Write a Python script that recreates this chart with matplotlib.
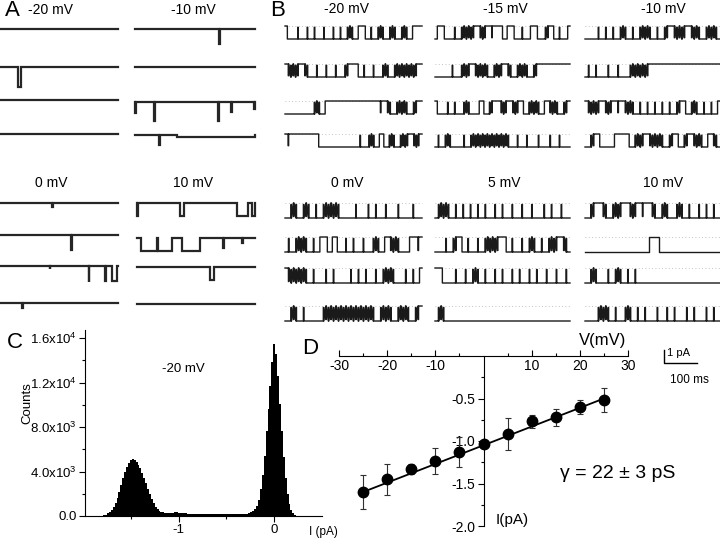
import numpy as np
import matplotlib
matplotlib.use("Agg")
import matplotlib.pyplot as plt
from matplotlib.ticker import FixedLocator, FixedFormatter

plt.rcParams['font.family'] = ['Liberation Sans', 'DejaVu Sans']
plt.rcParams['mathtext.fontset'] = 'custom'
plt.rcParams['mathtext.rm'] = 'Liberation Sans'
plt.rcParams['mathtext.default'] = 'regular'
plt.rcParams['axes.unicode_minus'] = False

W, H = 720, 538

# ---------------- data ----------------
# Panel A: single-channel events per sweep: (start frac, end frac, current pA)
A_labels = ['-20 mV', '-10 mV', '0 mV', '10 mV']
A_m20 = [[], [(0.155, 0.178, -1.4)], [], []]
A_m10 = [[(0.700, 0.707, -1.1)],
         [],
         [(0.0, 0.006, -0.8), (0.160, 0.167, -1.35), (0.690, 0.697, -1.35),
          (0.800, 0.806, -0.7), (0.994, 1.0, -0.5)],
         [(0.200, 0.206, -0.7), (0.350, 1.0, -0.12)]]
A_0 = [[(0.440, 0.447, -0.25)],
       [(0.600, 0.606, -1.1)],
       [(0.420, 0.425, -0.2), (0.750, 0.756, -1.15), (0.890, 0.896, -1.1),
        (0.950, 0.990, -1.05)],
       [(0.190, 0.196, -0.35)]]
A_10 = [[(0.0, 0.008, -0.9), (0.365, 0.400, -0.9), (0.850, 0.940, -0.9),
         (0.975, 1.0, -0.9)],
        [(0.030, 0.168, -0.9), (0.174, 0.300, -0.9), (0.380, 0.530, -0.9),
         (0.730, 0.736, -0.7), (0.890, 0.895, -0.35)],
        [(0.620, 0.650, -0.95)],
        []]
A_sweeps = [A_m20, A_m10, A_0, A_10]

# Panel B: channel state per time bin ('0' closed, '1' open)
B_labels = ['-20 mV', '-15 mV', '-10 mV', '0 mV', '5 mV', '10 mV']
B_m20 = ["0111101110110111011101101101011000110110101101011010110000",
         "0101010010111011101110111010000110111011101011010101010100",
         "1111111111110101100000000000000000000000100101101010110100",
         "0100000000000001111111111111111110111010110011010110101001010"]
B_m15 = ["1000111101101010100101001000011000111011100011101001101110",
         "1111111011101010010101011010100101101010110100000000000000",
         "0111101101110101111001101000101001010011010101100101011010",
         "1011010111110110101010101010101011101110111101111011101111"]
B_m10 = ["1111101101101101011011010101101101001010100101011010101",
         "1011011110111011110101010100000000000000000000000000000",
         "0101010010100100101011011011011011011010011010110110110",
         "1101001111110000001101010010101011010011010010101100101"]
B_0 = ["1101011010110110101010111111011110110111011110111110111",
       "1011010101101100011001110110111011101011001010111100010",
       "0101010101101111011011111101101101110110101011110110110",
       "1101011011111110101010101010101010101101010110101011010"]
B_5 = ["1010101101101101101101110110111011101110111101101110111",
       "1111011010011011101101010100011011101101011011010100101",
       "0001111101110110101101110110111011011101101110111011101",
       "1010111111111111111111111111111111111111111111111111111"]
B_10 = ["1101000101101010001010010001011010111010110111011011011",
        "1111111111111111111111111100001111111111111111111111111",
        "1101011110110101101101111111111111111111111111111111111",
        "1111101010110111010110110111101110110111101101111011011"]
B_sweeps = [B_m20, B_m15, B_m10, B_0, B_5, B_10]

# Panel C: all-points histogram at -20 mV (bins of 0.02 pA from -1.81 pA)
hist_counts = [40, 70, 130, 230, 380, 580, 850, 1200, 1650, 2200,
               2800, 3400, 3950, 4400, 4750, 5000, 5150, 5050, 4850, 4600,
               4300, 3900, 3450, 2950, 2450, 1950, 1500, 1150, 850, 620,
               470, 380, 330, 300, 290, 280, 290, 310, 330, 320,
               300, 280, 260, 240, 230, 220, 210, 200, 200, 190,
               190, 180, 180, 170, 170, 160, 160, 160, 150, 150,
               150, 150, 140, 150, 150, 150, 140, 150, 150, 160,
               160, 170, 170, 180, 190, 200, 220, 260, 320, 420,
               600, 900, 1450, 2400, 3700, 5400, 7600, 9600, 11700, 13800,
               15500, 14600, 12600, 10100, 7600, 5300, 3400, 2000, 1100, 550,
               260, 110, 40]
hist_first_center = -1.80
hist_bin_width = 0.02

# Panel D: I-V relation
iv_V = [-25, -20, -15, -10, -5, 0, 5, 10, 15, 20, 25]
iv_I = [-1.60, -1.45, -1.33, -1.235, -1.13, -1.04, -0.92, -0.77, -0.72, -0.60, -0.52]
iv_err = [0.20, 0.18, 0.06, 0.15, 0.18, 0.02, 0.19, 0.08, 0.10, 0.08, 0.14]
fit_V = [-25, 25]
fit_I = [-1.60, -0.50]

# ---------------- figure ----------------
fig = plt.figure(figsize=(W / 100, H / 100), dpi=100)


def box(x0, y0, x1, y1):
    return [x0 / W, 1 - y1 / H, (x1 - x0) / W, (y1 - y0) / H]


ov = fig.add_axes([0, 0, 1, 1])
ov.set_xlim(0, W)
ov.set_ylim(H, 0)
ov.axis('off')

# ---- Panel A traces ----
A_cols = [(0, 118), (135, 255), (0, 118), (137, 255)]
A_rows = [[29, 67, 100, 134], [29, 67, 102, 135], [203, 235, 266, 303], [203, 238, 267, 304]]
A_scale = 14.0  # px per pA
for c, sweeps in enumerate(A_sweeps):
    x0, x1 = A_cols[c]
    for r, events in enumerate(sweeps):
        t = [0.0]
        lv = [0.0]
        for (s, e, amp) in sorted(events):
            t += [s, s, e, e]
            lv += [lv[-1], amp, amp, 0.0]
        t.append(1.0)
        lv.append(lv[-1])
        xs = x0 + np.array(t) * (x1 - x0)
        ys = A_rows[c][r] - np.array(lv) * A_scale
        ov.plot(xs, ys, color='#262626', lw=1.6, solid_joinstyle='miter')


def runs(s):
    out = []
    i = 0
    while i < len(s):
        j = i
        while j < len(s) and s[j] == s[i]:
            j += 1
        out.append((i, j, s[i]))
        i = j
    return out


# ---- Panel B traces ----
B_cols = [(285, 422), (435, 570), (585, 720)]
B_rows = [[26, 64, 101, 134], [203, 237, 268, 306]]
B_amp = [13, 15]
for c, sweeps in enumerate(B_sweeps):
    g = c // 3
    x0, x1 = B_cols[c % 3]
    for r, s in enumerate(sweeps):
        n = len(s)
        rl = runs(s)
        t, lv = [], []
        for k, (i, j, ch) in enumerate(rl):
            v = 1.0 if ch == '1' else 0.0
            a, b = float(i), float(j)
            # brief (single-bin) sojourns are drawn as narrow, filtered spikes
            if j - i == 1 and 0 < k < len(rl) - 1:
                base = 0.0 if ch == '1' else 1.0
                peak = 0.9 if ch == '1' else 0.1
                mid = (a + b) / 2
                t += [mid - 0.12, mid - 0.12, mid + 0.12, mid + 0.12]
                lv += [base, peak, peak, base]
                continue
            t += [a, b]
            lv += [v, v]
        t = np.array(t) / n
        xs = x0 + t * (x1 - x0)
        ys = B_rows[g][r] + np.array(lv) * B_amp[g]
        ov.plot([x0, x1], [B_rows[g][r], B_rows[g][r]], color='#b0b0b0', lw=0.6, ls=(0, (1, 3)))
        ov.plot(xs, ys, color='#1a1a1a', lw=1.0)

# ---- panel texts ----
ov.text(5, 11, 'A', fontsize=16, ha='left', va='center')
ov.text(270, 11, 'B', fontsize=16, ha='left', va='center')
ov.text(7, 343, 'C', fontsize=16, ha='left', va='center')
ov.text(302, 349, 'D', fontsize=16, ha='left', va='center')
for lab, (x, y) in zip(A_labels, [(51, 10), (193, 10), (51, 183), (193, 183)]):
    ov.text(x, y, lab, fontsize=10, ha='center', va='center')
for lab, (x, y) in zip(B_labels, [(347, 9), (505, 9), (663, 9), (347, 183), (504, 183), (663, 183)]):
    ov.text(x, y, lab, fontsize=10, ha='center', va='center')

# scale bar
ov.plot([664, 664, 697], [350, 363, 363], color='black', lw=1.0)
ov.text(667, 353, '1 pA', fontsize=8, ha='left', va='center')
ov.text(689, 380, '100 ms', fontsize=8.5, ha='center', va='center')

# ---- Panel C histogram ----
axC = fig.add_axes(box(85, 330, 322, 516))
centers = hist_first_center + hist_bin_width * np.arange(len(hist_counts))
axC.bar(centers, hist_counts, width=hist_bin_width, color='black', linewidth=0)
axC.set_xlim(-1.98, 0.50)
axC.set_ylim(0, 16720)
for sp in ['top', 'right']:
    axC.spines[sp].set_visible(False)
axC.xaxis.set_major_locator(FixedLocator([-2, -1, 0]))
axC.xaxis.set_major_formatter(FixedFormatter(['-2', '-1', '0']))
axC.xaxis.set_minor_locator(FixedLocator([-1.5, -0.5]))
axC.yaxis.set_major_locator(FixedLocator([0, 4000, 8000, 12000, 16000]))
axC.yaxis.set_major_formatter(FixedFormatter(['0.0', '4.0x10$^3$', '8.0x10$^3$',
                                              '1.2x10$^4$', '1.6x10$^4$']))
axC.yaxis.set_minor_locator(FixedLocator([2000, 6000, 10000, 14000]))
axC.tick_params(which='major', length=4, width=0.8, labelsize=9.5, pad=2)
axC.tick_params(which='minor', length=2, width=0.8)
axC.set_facecolor('none')
ov.text(27, 403, 'Counts', fontsize=9.5, rotation=90, ha='center', va='center')
ov.text(183, 369, '-20 mV', fontsize=9.5, ha='center', va='center')
ov.text(323, 532, 'I (pA)', fontsize=8.5, ha='center', va='center')

# ---- Panel D I-V ----
axD = fig.add_axes(box(339, 356, 628, 526))
axD.plot(fit_V, fit_I, color='black', lw=1.3, zorder=2)
axD.errorbar(iv_V, iv_I, yerr=iv_err, fmt='o', ms=7.5, color='black',
             ecolor='#303030', elinewidth=0.8, capsize=2, capthick=0.8, zorder=3)
axD.set_xlim(-30, 30)
axD.set_ylim(-2.0, 0.0)
axD.spines['top'].set_visible(False)
axD.spines['right'].set_visible(False)
axD.spines['bottom'].set_position(('data', 0))
axD.spines['left'].set_position(('data', 0))
axD.xaxis.set_major_locator(FixedLocator([-30, -20, -10, 10, 20, 30]))
axD.xaxis.set_major_formatter(FixedFormatter(['-30', '-20', '-10', '10', '20', '30']))
axD.xaxis.set_minor_locator(FixedLocator([-25, -15, -5, 5, 15, 25]))
axD.yaxis.set_major_locator(FixedLocator([-0.5, -1.0, -1.5, -2.0]))
axD.yaxis.set_major_formatter(FixedFormatter(['-0.5', '-1.0', '-1.5', '-2.0']))
axD.yaxis.set_minor_locator(FixedLocator([-0.25, -0.75, -1.25, -1.75]))
axD.tick_params(axis='x', which='major', direction='in', length=4, width=0.8, labelsize=10, pad=2)
axD.tick_params(axis='x', which='minor', direction='in', length=2, width=0.8)
axD.tick_params(axis='y', which='major', direction='out', length=4, width=0.8, labelsize=10, pad=2)
axD.tick_params(axis='y', which='minor', direction='out', length=2, width=0.8)
axD.set_facecolor('none')
ov.text(603, 340, 'V(mV)', fontsize=12, ha='center', va='center')
ov.text(512, 520, 'I(pA)', fontsize=11, ha='center', va='center')
ov.text(618, 474, 'γ = 22 ± 3 pS', fontsize=14, ha='center', va='center')

fig.savefig('out.png', dpi=100)
